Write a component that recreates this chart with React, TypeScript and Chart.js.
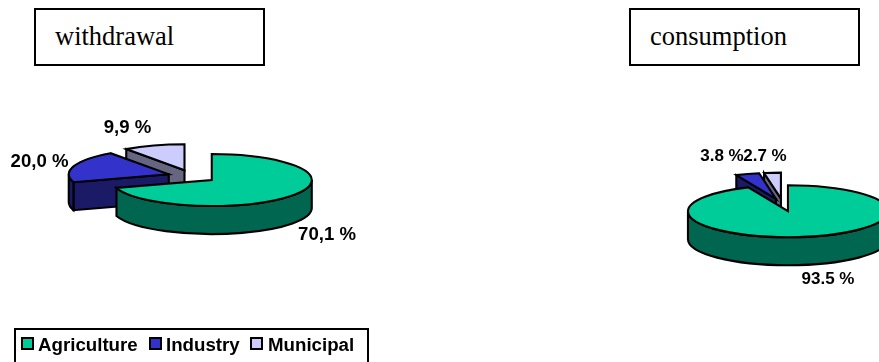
import { useEffect, useRef } from "react";
import { Chart, registerables } from "chart.js";

Chart.register(...registerables);

const sectors = ["Agriculture", "Industry", "Municipal"];
const withdrawalValues = [70.1, 20.0, 9.9];
const consumptionValues = [93.5, 3.8, 2.7];
const withdrawalLabels = ["70,1 %", "20,0 %", "9,9 %"];
const consumptionLabels = ["93.5 %", "3.8 %", "2.7 %"];
const topColors = ["#00CC99", "#3333CC", "#CCCCFF"];
const wallColors = ["#006650", "#1A1A66", "#666680"];

const TILT = 0.26;
const DEPTH = 28;
const RADIUS = 100;
const EXPLODE = 24.5;
const CANVAS_W = 440;
const CANVAS_H = 362;

// Draws the pie's arc elements flattened into an extruded, exploded disc.
function discPlugin(cx: number, cy: number, labelSpots: number[][], texts: string[], fontSize: number) {
  return {
    id: "disc",
    beforeDatasetsDraw(chart: any) {
      const ctx: CanvasRenderingContext2D = chart.ctx;
      const arcs = chart.getDatasetMeta(0).data;
      const area = chart.chartArea;
      const baseX = (area.left + area.right) / 2;
      const baseY = (area.top + area.bottom) / 2;
      ctx.lineWidth = 2.1;
      ctx.strokeStyle = "#000";
      ctx.lineJoin = "miter";

      for (let i = arcs.length - 1; i >= 0; i--) {
        const arc = arcs[i];
        const { startAngle: a0, endAngle: a1, outerRadius: r } = arc;
        const mid = (a0 + a1) / 2;
        const ox = cx + Math.cos(mid) * EXPLODE;
        const oy = cy + Math.sin(mid) * EXPLODE * TILT;
        const ry = r * TILT;
        const px = (a: number) => ox + Math.cos(a) * r;
        const py = (a: number) => oy + Math.sin(a) * ry;

        ctx.fillStyle = wallColors[i];
        const radialWall = (a: number) => {
          ctx.beginPath();
          ctx.moveTo(ox, oy);
          ctx.lineTo(px(a), py(a));
          ctx.lineTo(px(a), py(a) + DEPTH);
          ctx.lineTo(ox, oy + DEPTH);
          ctx.closePath();
          ctx.fill();
          ctx.stroke();
        };
        if (Math.cos(a0) < -1e-6) radialWall(a0);
        if (Math.cos(a1) > 1e-6) radialWall(a1);

        const f0 = Math.max(a0, 0);
        const f1 = Math.min(a1, Math.PI);
        if (f1 > f0) {
          ctx.beginPath();
          ctx.ellipse(ox, oy, r, ry, 0, f0, f1);
          ctx.ellipse(ox, oy + DEPTH, r, ry, 0, f1, f0, true);
          ctx.closePath();
          ctx.fill();
          ctx.stroke();
        }

        // Top face: the arc element itself, squashed about the pie centre.
        ctx.save();
        ctx.translate(ox, oy);
        ctx.scale(1, TILT);
        ctx.translate(-baseX, -baseY);
        arc.draw(ctx);
        ctx.restore();

        ctx.beginPath();
        ctx.moveTo(ox, oy);
        ctx.ellipse(ox, oy, r, ry, 0, a0, a1);
        ctx.closePath();
        ctx.stroke();
      }

      ctx.fillStyle = "#000";
      ctx.font = `bold ${fontSize}px "Liberation Sans", Arial, sans-serif`;
      ctx.textAlign = "center";
      ctx.textBaseline = "middle";
      texts.forEach((t, i) => ctx.fillText(t, labelSpots[i][0], labelSpots[i][1]));
      return false;
    },
  };
}

function Pie({ left, values, plugin }: { left: number; values: number[]; plugin: any }) {
  const ref = useRef<HTMLCanvasElement>(null);
  useEffect(() => {
    const chart = new Chart(ref.current!, {
      type: "pie",
      data: {
        labels: sectors,
        datasets: [{ data: values, backgroundColor: topColors, borderWidth: 0 }],
      },
      options: {
        animation: false,
        responsive: false,
        radius: RADIUS,
        plugins: { legend: { display: false }, tooltip: { enabled: false } },
      },
      plugins: [plugin],
    } as any);
    return () => chart.destroy();
  }, []);
  return (
    <canvas
      ref={ref}
      width={CANVAS_W}
      height={CANVAS_H}
      style={{ position: "absolute", left, top: 0, width: CANVAS_W, height: CANVAS_H }}
    />
  );
}

const titleStyle = (left: number): React.CSSProperties => ({
  position: "absolute",
  left,
  top: 8,
  width: 231,
  height: 58,
  border: "2px solid #000",
  boxSizing: "border-box",
  fontFamily: '"Liberation Serif", serif',
  fontSize: 26.5,
  lineHeight: "53px",
  paddingLeft: 19,
  color: "#000",
  background: "#fff",
});

export default function App() {
  return (
    <div style={{ position: "absolute", left: 0, top: 0, width: 879, height: 362, overflow: "hidden", background: "#fff" }}>
      <Pie
        left={0}
        values={withdrawalValues}
        plugin={discPlugin(192, 176.3, [[327, 235], [39.5, 162], [127.5, 128]], withdrawalLabels, 18.6)}
      />
      <Pie
        left={439}
        values={consumptionValues}
        plugin={discPlugin(344, 205, [[389, 279], [283, 156], [326, 156]], consumptionLabels, 17)}
      />
      <div style={titleStyle(34)}>withdrawal</div>
      <div style={titleStyle(629)}>consumption</div>
      <div
        style={{
          position: "absolute",
          left: 14,
          top: 328,
          width: 355,
          height: 60,
          boxSizing: "border-box",
          border: "2px solid #000",
          fontFamily: '"Liberation Sans", Arial, sans-serif',
          fontWeight: "bold",
          fontSize: 18.7,
          color: "#000",
        }}
      >
        {sectors.map((name, i) => (
          <span key={name}>
            <span
              style={{
                position: "absolute",
                left: [5, 133, 234][i],
                top: 7,
                width: 13,
                height: 13,
                boxSizing: "border-box",
                border: "2px solid #000",
                background: topColors[i],
              }}
            />
            <span style={{ position: "absolute", left: [22, 150, 252][i], top: 4, lineHeight: "22px" }}>{name}</span>
          </span>
        ))}
      </div>
    </div>
  );
}
